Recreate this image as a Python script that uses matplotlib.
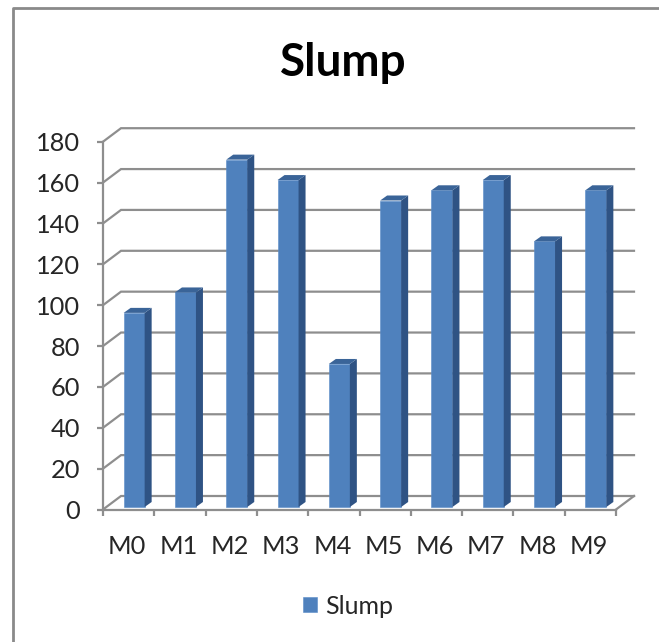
import matplotlib.pyplot as plt
from matplotlib.lines import Line2D
from matplotlib.transforms import Affine2D, ScaledTranslation
import numpy as np

plt.rcParams["font.family"] = ["Lato", "DejaVu Sans"]

categories = ["M0", "M1", "M2", "M3", "M4", "M5", "M6", "M7", "M8", "M9"]
slump = [95, 105, 170, 160, 70, 150, 155, 160, 130, 155]
y_ticks = [0, 20, 40, 60, 80, 100, 120, 140, 160, 180]

W, H = 659, 642
fig = plt.figure(figsize=(W / 100, H / 100), dpi=100)

# front plane of the fake 3d box, in pixels
left, right, top, bottom = 103, 616, 141.7, 509.5
ax = fig.add_axes([left / W, 1 - bottom / H, (right - left) / W, (bottom - top) / H])
ax.set_xlim(0, 10)
ax.set_ylim(0, 180)
for s in ax.spines.values():
    s.set_visible(False)
ax.patch.set_visible(False)

px_x = 10 / (right - left)
px_y = 180 / (bottom - top)
grey = "#8E8E8E"
lw = 1.6

# walls: every gridline goes back diagonally and then runs to the right
back_x = 18 * px_x
back_y = 13.5 * px_y
for v in y_ticks:
    ax.plot([0, back_x, 10 + back_x], [v, v + back_y, v + back_y],
            color=grey, lw=lw, clip_on=False, solid_joinstyle="miter", zorder=1)
ax.plot([10, 10 + back_x], [0, back_y], color=grey, lw=lw, clip_on=False, zorder=1)
ax.plot([0, 10], [0, 0], color=grey, lw=lw, clip_on=False, zorder=1)
ax.plot([0, 0], [0, 180], color=grey, lw=lw, clip_on=False, zorder=1)

# bars
x = np.arange(len(categories)) + 0.5
bar_w = 21 * px_x
shift = Affine2D().translate(5.5, 2.5)
ax.bar(x, slump, bar_w, color="#4F81BD", edgecolor="#5A8CC8", linewidth=0.4, label="Slump",
       transform=ax.transData + shift, clip_on=False, zorder=3)
dep_x = 7 * px_x
dep_y = 5 * px_y
for a, b in zip(x, slump):
    r = a + bar_w / 2
    l = a - bar_w / 2
    ax.fill([r, r + dep_x, r + dep_x, r], [0, dep_y, b + dep_y, b], color="#2F5384", lw=0,
            transform=ax.transData + shift, clip_on=False, zorder=3)
    ax.fill([l, l + dep_x, r + dep_x, r], [b, b + dep_y, b + dep_y, b], color="#3A6498", lw=0,
            transform=ax.transData + shift, clip_on=False, zorder=3)

# ticks
ax.set_yticks(y_ticks)
ax.set_xticks(np.arange(11))
ax.set_xticklabels([])
ax.set_xticks(x, categories, minor=True)
ax.tick_params(axis="y", length=4.5, width=lw, color=grey, labelsize=18.3, labelcolor="#262626", pad=12)
ax.tick_params(axis="x", which="major", length=4.5, width=lw, color=grey)
ax.tick_params(axis="x", which="minor", length=0, labelsize=18.3, labelcolor="#262626", pad=18)
for lab in ax.get_xticklabels(minor=True):
    lab.set_transform(lab.get_transform() + ScaledTranslation(-1.5 / 100, 0, fig.dpi_scale_trans))

fig.text(343 / W, 1 - 63 / H, "Slump", ha="center", va="center", fontsize=33,
         fontweight="bold", color="black")

ax.legend(loc="center", bbox_to_anchor=(348 / W, 1 - 606 / H), bbox_transform=fig.transFigure,
          frameon=False, fontsize=18, handlelength=0.56, handleheight=0.56, handletextpad=0.32,
          labelcolor="#262626")

# chart border, only the top and left show in the crop
fig.add_artist(Line2D([13 / W, 13 / W, 1], [0, 1 - 8 / H, 1 - 8 / H], color="#8A8A8A", lw=2))

fig.savefig("out.png", dpi=100)
